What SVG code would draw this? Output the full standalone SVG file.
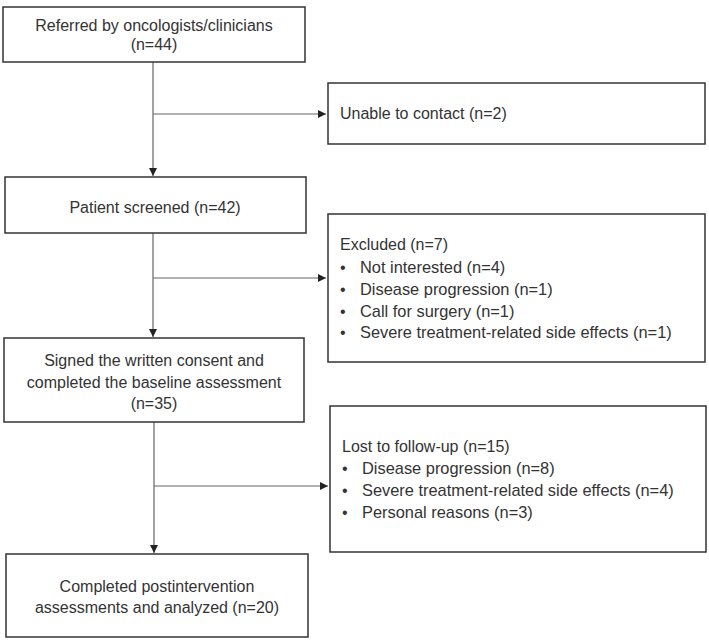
<svg xmlns="http://www.w3.org/2000/svg" width="709" height="640" viewBox="0 0 709 640">
<style>
.box{fill:#fff;stroke:#333;stroke-width:1.5}
.ln{fill:none;stroke:#666;stroke-width:1.2}
text{font-family:"Liberation Sans",Arial,sans-serif;font-size:16px;fill:#333}
.c{text-anchor:middle}
.b{font-size:16.4px}
</style>
<defs>
<marker id="ah" viewBox="0 0 10 10" refX="10" refY="5" markerWidth="8" markerHeight="8" markerUnits="userSpaceOnUse" orient="auto">
<path d="M0,0L10,5L0,10z" fill="#222"/>
</marker>
</defs>
<rect width="709" height="640" fill="#fff"/>
<g id="connectors">
<line class="ln" x1="153" y1="62" x2="153" y2="176" marker-end="url(#ah)"/>
<line class="ln" x1="153" y1="114" x2="326" y2="114" marker-end="url(#ah)"/>
<line class="ln" x1="153" y1="233" x2="153" y2="337" marker-end="url(#ah)"/>
<line class="ln" x1="153" y1="278" x2="326" y2="278" marker-end="url(#ah)"/>
<line class="ln" x1="154" y1="422" x2="154" y2="553" marker-end="url(#ah)"/>
<line class="ln" x1="154" y1="486" x2="328" y2="486" marker-end="url(#ah)"/>
</g>
<g id="n1">
<rect class="box" x="3" y="7" width="302" height="55"/>
<text class="c" x="154" y="31">Referred by oncologists/clinicians</text>
<text class="c" x="154" y="50">(n=44)</text>
</g>
<g id="n2">
<rect class="box" x="328" y="83" width="377" height="61"/>
<text x="340" y="119">Unable to contact (n=2)</text>
</g>
<g id="n3">
<rect class="box" x="5" y="177" width="301" height="56"/>
<text class="c" x="155" y="213">Patient screened (n=42)</text>
</g>
<g id="n4">
<rect class="box" x="328" y="214" width="377" height="148"/>
<text x="340" y="250">Excluded (n=7)</text>
<text x="340" y="273">•</text><text class="b" x="360" y="273">Not interested (n=4)</text>
<text x="340" y="295">•</text><text class="b" x="360" y="295">Disease progression (n=1)</text>
<text x="340" y="317">•</text><text class="b" x="360" y="317">Call for surgery (n=1)</text>
<text x="340" y="338">•</text><text class="b" x="360" y="338">Severe treatment-related side effects (n=1)</text>
</g>
<g id="n5">
<rect class="box" x="4" y="338" width="300" height="84"/>
<text class="c" x="154" y="366">Signed the written consent and</text>
<text class="c" x="154" y="388">completed the baseline assessment</text>
<text class="c" x="154" y="409">(n=35)</text>
</g>
<g id="n6">
<rect class="box" x="330" y="406" width="376" height="146"/>
<text x="342" y="452">Lost to follow-up (n=15)</text>
<text x="342" y="474">•</text><text class="b" x="362" y="474">Disease progression (n=8)</text>
<text x="342" y="496">•</text><text class="b" x="362" y="496">Severe treatment-related side effects (n=4)</text>
<text x="342" y="518">•</text><text class="b" x="362" y="518">Personal reasons (n=3)</text>
</g>
<g id="n7">
<rect class="box" x="6" y="554" width="302" height="83"/>
<text class="c" x="157" y="592">Completed postintervention</text>
<text class="c" x="157" y="613">assessments and analyzed (n=20)</text>
</g>
</svg>
